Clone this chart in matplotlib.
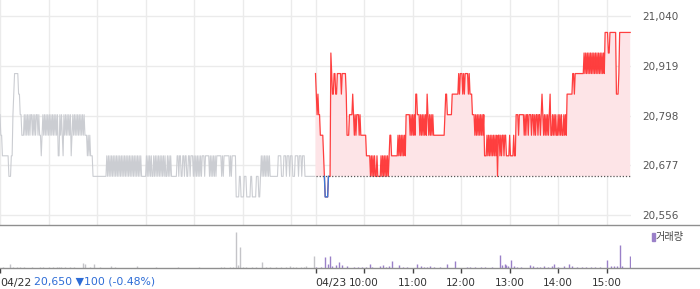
import numpy as np
import matplotlib
matplotlib.use('Agg')
import matplotlib.pyplot as plt
from matplotlib.lines import Line2D
from matplotlib.patches import Rectangle


prev_close = 20650
price_floor = 20600      # digit 0 below
tick_size = 50           # one digit step

# one digit per minute 09:00-15:30, price = price_floor + tick_size*digit
day1_ticks = (
    "43" "3" "22222222" "111" "22" "45" "66666" "55" "44" "333"
    "434343434434343443433" "2" "34343434343434343434" "22" "4343" "2"
    "434343434" "2" "3434343434343434" "333" "2323222" "1111" "1111111111111"
    "21212121212" "12121212121" "21212121212" "1212121212"
    "111111" "2121212112121212121212121121212" "111111"
    "12212211221221122122" "2121212121212" "221222221212"
    "121212" "22222" "121" "2222222" "1212" "2222"
    "0000110000111000001100000111001" "212121212121" "11111111"
    "12222111222122212221112222122212221" "111111111111"
)
day2_ticks = (
    "6" "5454" "4" "333" "3" "2" "1" "0000" "111" "7" "6"
    "556655666665666665" "333" "4444" "5" "43434" "4434" "3333333" "2222"
    "21212121" "121111" "21212121212" "3" "3222222223232323232" "4444"
    "43434343" "5544" "4343434343" "5" "43434343" "3333333333333" "4" "5"
    "54444445" "555555" "5656665656666565" "55" "44" "4343434343434" "222"
    "3232323232323" "1" "33232332332" "22232222322"
    "44434444443434434443443434434434" "5" "434343434" "5"
    "33434343343434334343" "5555555" "66566" "666666666"
    "76767676767676767676767676" "8888" "77" "88888888" "555" "6"
    "88888888888888"
)

# volume bars (minute of session, relative size)
vol1_min = [4, 12, 16, 21, 25, 30, 39, 49, 53, 60, 66, 70, 73, 76, 80, 86, 92, 102, 105, 111,
            116, 123, 137, 142, 169, 193, 220, 246, 273, 277, 284, 288, 292, 294, 297, 300, 304, 312, 316, 324,
            329, 334, 341, 347, 353, 358, 362, 366, 372, 376, 378, 388]
vol1_val = [1.5, 4, 1.5, 1.5, 1, 1, 1, 1, 1, 1, 1.5, 1.5, 1, 1.5, 1, 1, 1, 5, 4, 1,
            4, 1, 2, 1, 2, 1, 1, 1.5, 1, 1, 1, 1.5, 36, 3, 21, 1.5, 1.5, 1, 1.5, 6,
            1.5, 1.5, 1, 1, 1.5, 2, 1.5, 1.5, 1.5, 1.5, 2, 12]
vol2_min = [0, 7, 12, 15, 18, 21, 25, 29, 33, 39, 47, 53, 58, 62, 67, 70, 80, 83, 87, 91,
            94, 103, 108, 113, 126, 130, 134, 138, 141, 147, 154, 162, 173, 187, 191, 197, 205, 209, 218, 228,
            231, 234, 236, 238, 242, 245, 249, 254, 265, 269, 274, 278, 282, 287, 292, 295, 300, 307, 313, 317,
            323, 329, 334, 340, 346, 352, 360, 365, 369, 373, 376, 379, 389]
vol2_val = [1, 1, 11, 4, 12, 2, 3, 6, 3, 2, 1.5, 1.5, 1.5, 1, 4, 1.5, 2, 3, 1.5, 2,
            7, 3, 1.5, 1.5, 4, 2, 1.5, 1.5, 2, 1.5, 1.5, 4, 7, 1.5, 1, 1.5, 1.5, 1.5, 1, 13,
            3, 4.7, 3, 2, 8, 2, 1.5, 1.5, 3, 2, 1.5, 1.5, 2, 1.5, 2, 4, 1.5, 2, 4, 2,
            1.5, 1.5, 1.5, 1.5, 1.5, 1.5, 8, 2, 2, 2, 23, 2, 12]

y_ticks = [20556, 20677, 20798, 20919, 21040]
x_ticks = [0, 390, 450, 510, 570, 630, 690, 750]
x_labels = ['04/22', '04/23', '10:00', '11:00', '12:00', '13:00', '14:00', '15:00']
day1_label = '20,650 ▼100 (-0.48%)'
vol_label = '거래량'

assert len(day1_ticks) == 390, len(day1_ticks)
assert len(day2_ticks) == 390, len(day2_ticks)

p1 = price_floor + tick_size * np.array([int(c) for c in day1_ticks])
p2 = price_floor + tick_size * np.array([int(c) for c in day2_ticks])
x1 = np.arange(len(p1))
x2 = 390 + np.arange(len(p2))

W, H = 700, 289
fig = plt.figure(figsize=(7, 2.89), dpi=100)
ax = fig.add_axes([0, 1 - 225 / H, 631 / W, 225 / H])
axv = fig.add_axes([0, 1 - 268.3 / H, 631 / W, 42.3 / H])

# price pane
for gx in list(range(0, 391, 60)) + [390] + list(range(450, 780, 60)):
    ax.axvline(gx, color='#ebebeb', lw=1, zorder=0)
for gy in y_ticks:
    ax.axhline(gy, color='#ebebeb', lw=1, zorder=0)

ax.plot(x1, p1, color='#cbcdd2', lw=0.8)
ax.fill_between(x2, p2, prev_close, where=p2 >= prev_close, interpolate=True,
                color='#fde4e7', lw=0)
ax.plot(x2, p2, color='#ff2b2b', lw=0.9, alpha=0.9)
below = p2 < prev_close
near = below | np.roll(below, 1) | np.roll(below, -1)
ax.plot(x2, np.where(near, p2, np.nan), color='#3a7ad8', lw=1)
ax.plot([390, 780], [prev_close, prev_close], color='#555555', lw=0.9,
        ls=(0, (1, 1.5)))

ax.set_xlim(0, 780)
ax.set_ylim(20531.7, 21078.9)
ax.set_yticks(y_ticks)
ax.set_yticklabels(['{:,}'.format(v) for v in y_ticks])
ax.yaxis.tick_right()
ax.tick_params(axis='y', length=0, pad=8, labelsize=7.5, labelcolor='#555555')
ax.set_xticks([])
for s in ax.spines.values():
    s.set_visible(False)

# volume pane
axv.vlines(vol1_min, 0, vol1_val, color='#c4c4c8', lw=1)
axv.vlines(390 + np.array(vol2_min), 0, vol2_val, color='#9a80c8', lw=1)
axv.set_xlim(0, 780)
axv.set_ylim(0, 42.3)
axv.set_yticks([])
axv.set_xticks(x_ticks)
axv.set_xticklabels(x_labels)
labels = axv.get_xticklabels()
for lab in labels:
    lab.set_fontsize(7.5)
labels[0].set_ha('left')
labels[1].set_ha('left')
labels[0].set_fontsize(7.8)
labels[1].set_fontsize(7.8)
axv.tick_params(axis='x', length=3.6, width=1, color='#444444', pad=3.5,
                labelcolor='#333333')
for s in axv.spines.values():
    s.set_visible(False)

# full width separators
fig.add_artist(Line2D([0, 1], [1 - 225 / H] * 2, color='#8f8f8f', lw=1,
                      transform=fig.transFigure))
fig.add_artist(Line2D([0, 1], [1 - 268.3 / H] * 2, color='#8f8f8f', lw=1,
                      transform=fig.transFigure))

fig.text(34 / W, 1 - 282 / H, day1_label, color='#2d6cd6', fontsize=7.8,
         va='center', ha='left')
fig.add_artist(Rectangle((652 / W, 1 - 241 / H), 2.5 / W, 8 / H, color='#9a80c8',
                         transform=fig.transFigure))
fig.text(656 / W, 1 - 237 / H, vol_label, color='#444444', fontsize=7.3,
         va='center', ha='left', family=['Noto Sans CJK KR', 'DejaVu Sans'])

fig.savefig('out.png', dpi=100)
